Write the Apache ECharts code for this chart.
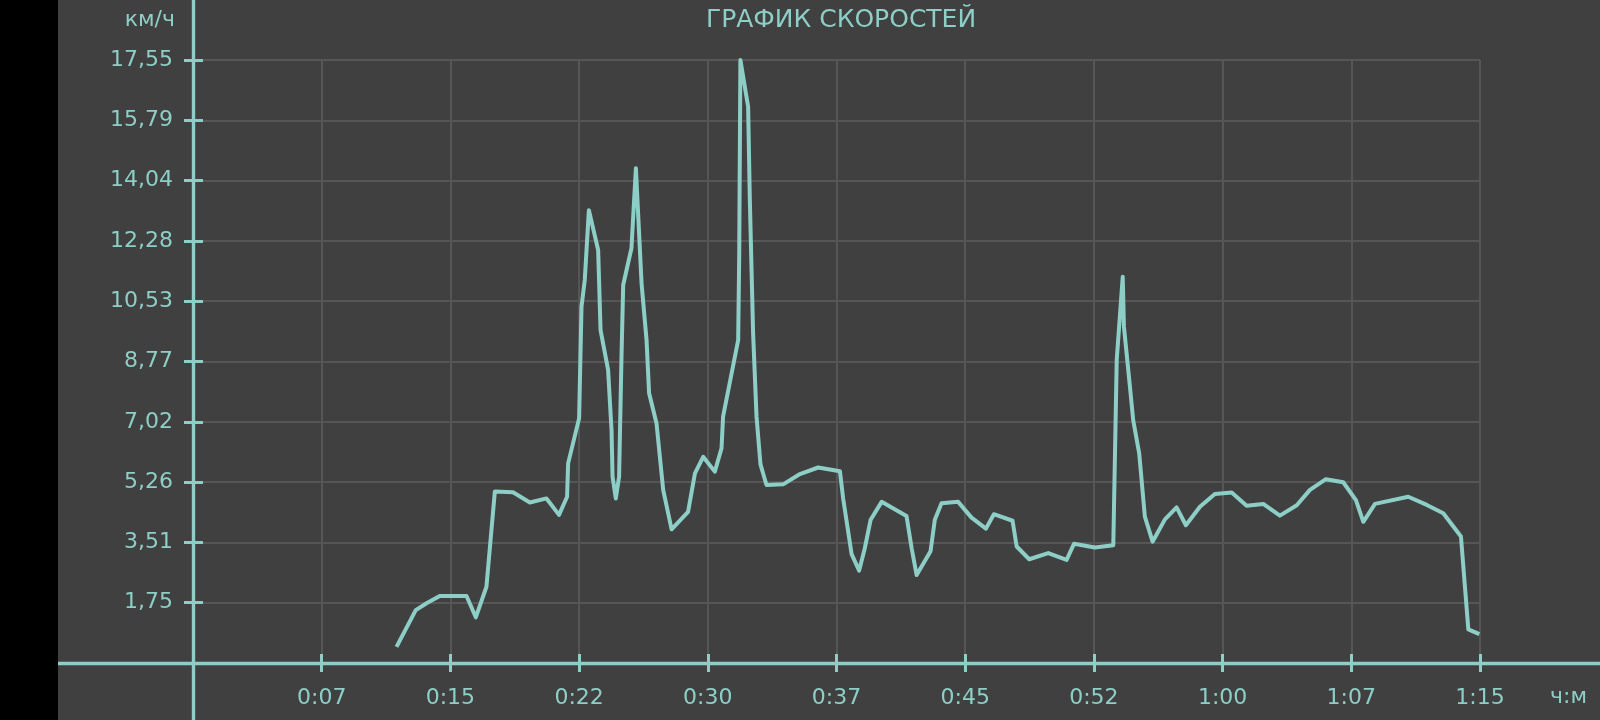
<!DOCTYPE html>
<html>
<head>
<meta charset="utf-8">
<script src="https://cdn.jsdelivr.net/npm/echarts@6/dist/echarts.min.js"></script>
<style>
html,body{margin:0;padding:0;background:#000;width:1600px;height:720px;overflow:hidden;}
#c{position:absolute;left:58px;top:0;width:1542px;height:720px;background:#404040;}
</style>
</head>
<body>
<div id="c"></div>
<script>
// time in minutes
var timeMin = [11.86,12.98,13.61,14.38,15.94,16.48,17.10,17.59,18.65,19.63,20.60,21.33,21.80,21.86,22.50,22.64,22.83,23.07,23.61,23.75,24.19,24.39,24.45,24.64,24.83,24.97,25.07,25.55,25.81,26.14,26.43,26.58,27.01,27.40,27.89,28.85,29.25,29.73,30.41,30.80,30.89,31.77,31.83,31.90,32.35,32.45,32.64,32.84,33.07,33.42,34.39,35.37,36.43,37.70,37.89,38.38,38.82,39.15,39.49,40.13,41.58,41.88,42.17,42.98,43.23,43.62,44.59,45.37,46.21,46.67,47.76,48.00,48.73,49.84,50.91,51.34,52.56,53.63,53.83,54.18,54.25,54.60,54.79,55.14,55.47,55.92,56.64,57.32,57.86,58.68,59.55,60.53,61.40,62.37,63.34,64.32,65.09,66.02,67.03,67.77,68.20,68.88,70.82,71.90,72.86,73.89,74.32,74.96];
// speed km/h
var speedKmh = [0.47,1.54,1.74,1.95,1.95,1.33,2.22,4.99,4.97,4.67,4.79,4.31,4.84,5.81,7.12,10.37,11.15,13.18,12.02,9.69,8.53,6.78,5.42,4.79,5.42,8.91,11.0,12.07,14.4,11.05,9.4,7.85,6.98,5.04,3.89,4.40,5.52,6.0,5.57,6.25,7.17,9.40,11.83,17.55,16.19,13.47,9.6,7.17,5.78,5.18,5.2,5.5,5.69,5.58,4.78,3.17,2.69,3.34,4.17,4.69,4.28,3.34,2.56,3.25,4.17,4.65,4.69,4.23,3.91,4.33,4.14,3.39,3.02,3.20,3.00,3.47,3.36,3.43,8.82,11.24,9.79,8.04,7.07,6.10,4.26,3.53,4.18,4.53,4.01,4.55,4.92,4.96,4.58,4.63,4.29,4.59,5.04,5.35,5.26,4.74,4.11,4.63,4.84,4.60,4.36,3.68,0.98,0.84];
var xTickLabels = ['', '0:07','0:15','0:22','0:30','0:37','0:45','0:52','1:00','1:07','1:15'];
var yTickLabels = ['', '1,75','3,51','5,26','7,02','8,77','10,53','12,28','14,04','15,79','17,55'];
var xStep = 7.5, xMax = 75;
var yStep = 1.755, yMax = 17.55;

var TEAL = '#8dcfc7';
var GRIDC = '#565656';
var FONT = '"DejaVu Sans", sans-serif';

var pts = timeMin.map(function(t,i){return [t, speedKmh[i]];});

var chart = echarts.init(document.getElementById('c'), null, {renderer:'canvas'});
chart.setOption({
  backgroundColor: '#404040',
  animation: false,
  title: {
    text: 'ГРАФИК СКОРОСТЕЙ',
    left: 778, top: 3, textAlign: 'center',
    textStyle: {color: TEAL, fontFamily: FONT, fontSize: 25, fontWeight: 'normal'}
  },
  grid: [
    {left: 135, right: 120, top: 60, bottom: 57, outerBoundsMode: 'none', containLabel: false},
    {left: 0, right: 0, top: 0, bottom: 57, outerBoundsMode: 'none', containLabel: false},
    {left: 135, right: 120, top: 0, bottom: 0, outerBoundsMode: 'none', containLabel: false}
  ],
  xAxis: [
    {gridIndex: 0, type: 'value', min: 0, max: xMax, interval: xStep,
     axisLine: {show: false},
     axisTick: {show: true, inside: true, length: 9, lineStyle: {color: TEAL, width: 3}},
     axisLabel: {color: TEAL, fontFamily: FONT, fontSize: 22, margin: 24,
       formatter: function(v){ return xTickLabels[Math.round(v / xStep)] || ''; }},
     splitLine: {show: true, lineStyle: {color: GRIDC, width: 2}},
     name: 'ч:м', nameLocation: 'end', nameGap: 70,
     nameTextStyle: {color: TEAL, fontFamily: FONT, fontSize: 22, verticalAlign: 'top', padding: [23,0,0,0]}
    },
    {gridIndex: 0, type: 'value', min: 0, max: xMax, interval: xStep, position: 'bottom',
     axisLine: {show: false},
     axisTick: {show: true, inside: false, length: 9, lineStyle: {color: TEAL, width: 3}},
     axisLabel: {show: false}, splitLine: {show: false}},
    {gridIndex: 1, type: 'value', min: 0, max: 1, position: 'bottom',
     axisLine: {show: true, onZero: false, lineStyle: {color: TEAL, width: 3.4}},
     axisTick: {show: false}, axisLabel: {show: false}, splitLine: {show: false}},
    {gridIndex: 2, type: 'value', show: false, min: 0, max: 1}
  ],
  yAxis: [
    {gridIndex: 0, type: 'value', min: 0, max: yMax, interval: yStep,
     axisLine: {show: false},
     axisTick: {show: true, inside: true, length: 10, lineStyle: {color: TEAL, width: 3}},
     axisLabel: {color: TEAL, fontFamily: FONT, fontSize: 22, margin: 20,
       formatter: function(v){ return yTickLabels[Math.round(v / yStep)] || ''; }},
     splitLine: {show: true, lineStyle: {color: GRIDC, width: 2}},
     name: 'км/ч', nameLocation: 'end', nameGap: 29,
     nameTextStyle: {color: TEAL, fontFamily: FONT, fontSize: 22, align: 'right', padding: [0, 18, 0, 0]}
    },
    {gridIndex: 0, type: 'value', min: 0, max: yMax, interval: yStep, position: 'left',
     axisLine: {show: false},
     axisTick: {show: true, inside: false, length: 9, lineStyle: {color: TEAL, width: 3}},
     axisLabel: {show: false}, splitLine: {show: false}},
    {gridIndex: 1, type: 'value', show: false, min: 0, max: 1},
    {gridIndex: 2, type: 'value', min: 0, max: 1, position: 'left',
     axisLine: {show: true, onZero: false, lineStyle: {color: TEAL, width: 3.4}},
     axisTick: {show: false}, axisLabel: {show: false}, splitLine: {show: false}}
  ],
  series: [{
    type: 'line', xAxisIndex: 0, yAxisIndex: 0,
    data: pts, showSymbol: false, symbol: 'none', smooth: false,
    clip: false,
    lineStyle: {color: TEAL, width: 4, join: 'round'},
    z: 5
  }]
});
</script>
</body>
</html>
